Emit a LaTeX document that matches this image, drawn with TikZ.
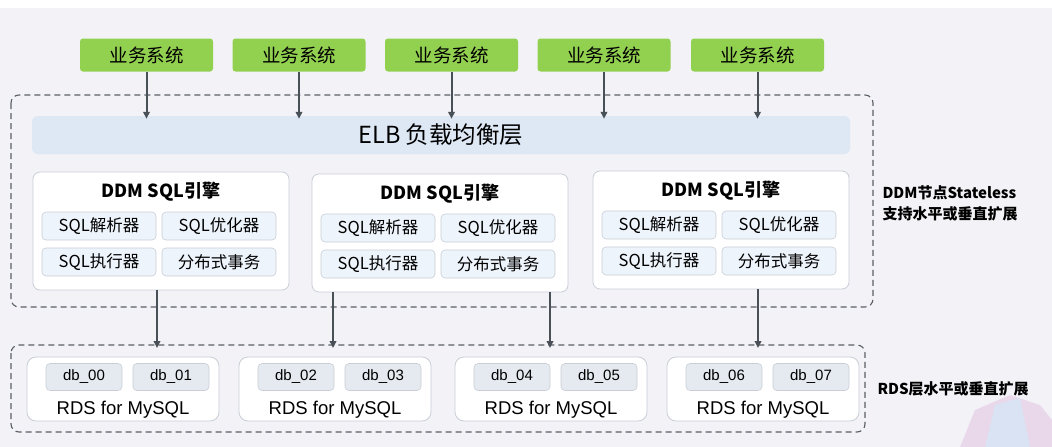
\documentclass[tikz,border=0pt]{standalone}
\usepackage{fontspec}
\setmainfont{Liberation Sans}
\newfontfamily\cjk{Noto Sans CJK SC}
\usetikzlibrary{arrows.meta,calc,positioning}
\definecolor{bg}{HTML}{F2F2F7}
\definecolor{grn}{HTML}{92D050}
\definecolor{elbc}{HTML}{DDE8F4}
\definecolor{subc}{HTML}{EEF4FB}
\definecolor{subb}{HTML}{C9CED6}
\definecolor{dbc}{HTML}{E4EAF0}
\definecolor{arr}{HTML}{4A5058}
\definecolor{dashc}{HTML}{5A5F66}
\tikzset{
  bizbox/.style={fill=grn, rounded corners=3pt, minimum width=133pt, minimum height=33pt, inner sep=0pt, font=\cjk\fontsize{18.5}{20}\selectfont},
  grpbox/.style={draw=dashc, dashed, dash pattern=on 6pt off 4pt, line width=1.1pt, rounded corners=8pt},
  engbox/.style={draw=subb, fill=white, rounded corners=7pt, line width=0.8pt},
  subbox/.style={draw=subb, fill=subc, rounded corners=4pt, minimum width=114pt, minimum height=28pt, inner sep=0pt, line width=0.6pt, font=\cjk\fontsize{16.5}{18}\selectfont},
  rdsbox/.style={draw=subb, fill=white, rounded corners=9pt, line width=0.8pt},
  dbbox/.style={draw=subb, fill=dbc, rounded corners=4pt, minimum width=76pt, minimum height=27pt, inner sep=0pt, line width=0.6pt, font=\fontsize{15}{17}\selectfont},
  flow/.style={draw=arr, line width=2pt, -{Triangle[length=7pt,width=6.5pt]}},
  sidelbl/.style={anchor=west, align=left, font=\cjk\bfseries\fontsize{15}{21}\selectfont},
}
\begin{document}
\begin{tikzpicture}[x=1pt,y=-1pt]
\useasboundingbox (0,0) rectangle (1052,447);
\fill[white] (0,0) rectangle (1052,8);
\fill[bg] (0,8) rectangle (1052,447);
% decorative shape bottom right
\fill[violet!25, opacity=0.5] (960,447) -- (975,410) -- (1010,395) -- (1040,405) -- (1052,420) -- (1052,447) -- cycle;
\fill[cyan!20, opacity=0.5] (985,447) -- (995,405) -- (1020,398) -- (1030,447) -- cycle;

% business systems
\foreach \i/\x in {1/146.5,2/299,3/451.5,4/604,5/757.5}{
  \node[bizbox] (g\i) at (\x,55) {业务系统};
}

% DDM group
\draw[grpbox] (11,95) rectangle (873,307);
\node[fill=elbc, rounded corners=6pt, minimum width=818pt, minimum height=38pt, inner sep=0pt, font=\cjk\fontsize{23.5}{25}\selectfont] (elb) at (441,135) {ELB 负载均衡层};

\foreach \i in {1,...,5}{
  \draw[flow] (g\i.south) -- ([yshift=-3pt]g\i.south |- elb.north);
}

% DDM engines
\foreach \i/\xa/\ya in {1/33/172, 2/312/174, 3/593/171}{
  \pgfmathsetmacro{\xc}{\xa+128}
  \node[engbox, minimum width=256pt, minimum height=118pt, inner sep=0pt] (d\i) at (\xc,{\ya+59}) {};
  \node[font=\cjk\bfseries\fontsize{18}{20}\selectfont] (dt\i) at (\xc,{\ya+20}) {DDM SQL引擎};
  \node[subbox] (p\i) at ({\xa+66},{\ya+54}) {SQL解析器};
  \node[subbox] (o\i) at ({\xa+186},{\ya+54}) {SQL优化器};
  \node[subbox] (e\i) at ({\xa+66},{\ya+90}) {SQL执行器};
  \node[subbox] (t\i) at ({\xa+186},{\ya+90}) {分布式事务};
}
\node[sidelbl] (lbl1) at (879,203) {DDM节点Stateless\\支持水平或垂直扩展};

% RDS group
\draw[grpbox] (11,345) rectangle (865,432);
\coordinate (rg) at (438,345);
\foreach \i/\xa/\n in {1/27/0, 2/239/2, 3/455/4, 4/667/6}{
  \pgfmathsetmacro{\xc}{\xa+96}
  \node[rdsbox, minimum width=192pt, minimum height=64pt, inner sep=0pt] (r\i) at (\xc,389) {};
  \pgfmathtruncatemacro{\na}{\n}
  \pgfmathtruncatemacro{\nb}{\n+1}
  \node[dbbox] (da\i) at ({\xa+57},377) {db\_0\na};
  \node[dbbox] (db\i) at ({\xa+144},377) {db\_0\nb};
  \node[font=\fontsize{18.5}{20}\selectfont] (rt\i) at (\xc,410) {RDS for MySQL};
}
\node[sidelbl] (lbl2) at (874,389) {RDS层水平或垂直扩展};

% DDM -> RDS arrows
\draw[flow] ([xshift=-4pt]d1.south) -- ([xshift=-4pt,yshift=-3pt]d1.south |- rg);
\draw[flow] ([xshift=-107pt]d2.south) -- ([xshift=-107pt,yshift=-3pt]d2.south |- rg);
\draw[flow] ([xshift=110pt]d2.south) -- ([xshift=110pt,yshift=-3pt]d2.south |- rg);
\draw[flow] ([xshift=37pt]d3.south) -- ([xshift=37pt,yshift=-3pt]d3.south |- rg);
\end{tikzpicture}
\end{document}
